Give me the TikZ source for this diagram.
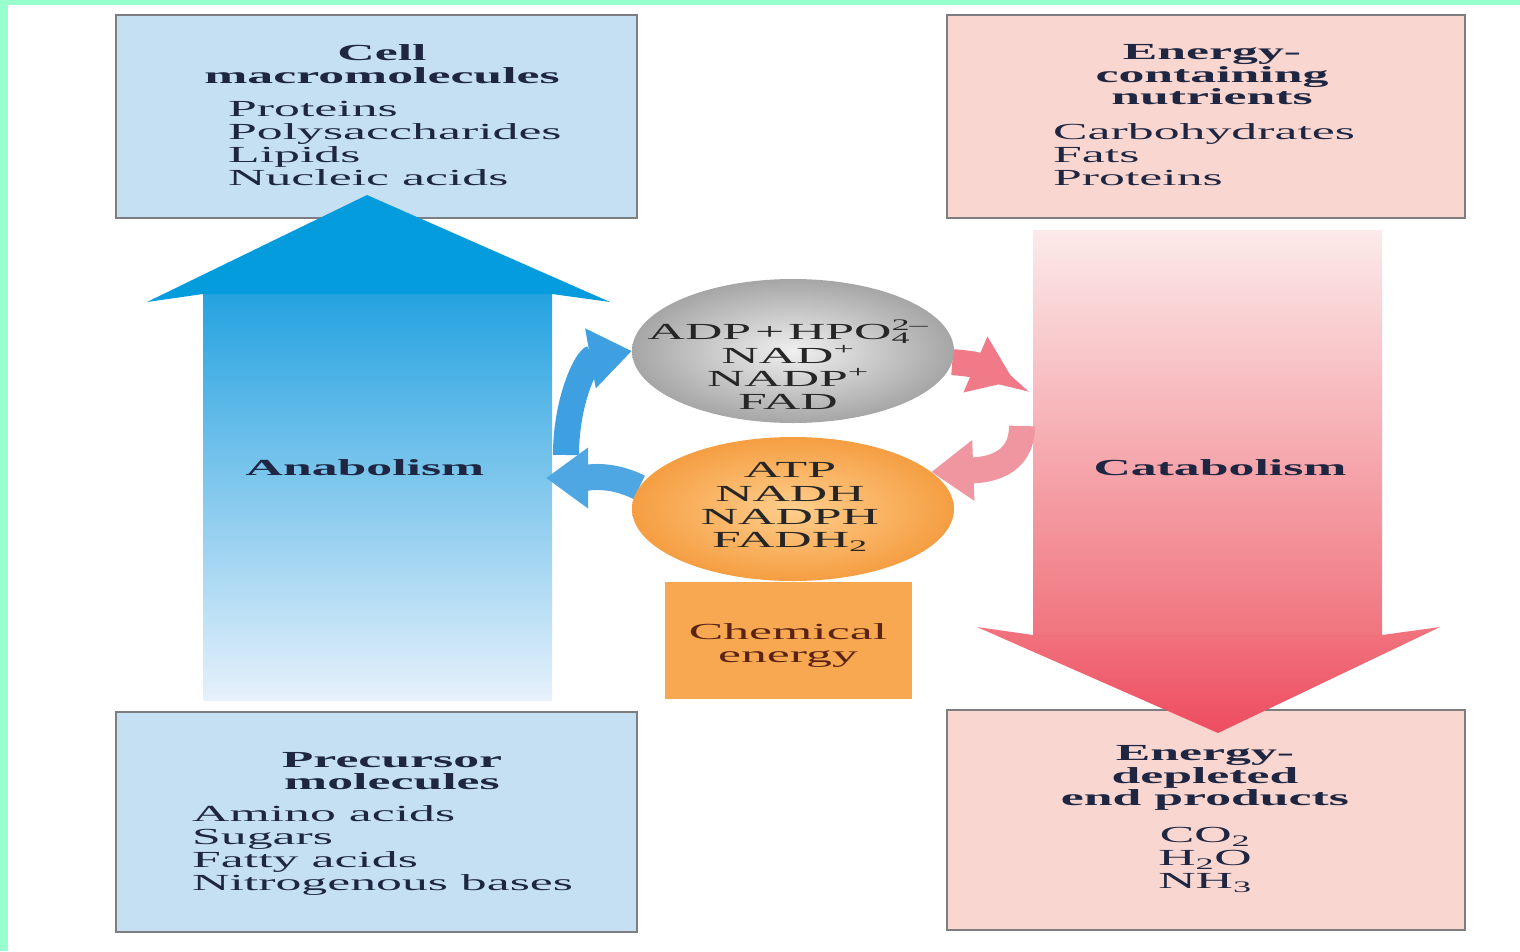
\documentclass[tikz,border=0pt]{standalone}
\usepackage{fontspec}
\setmainfont{Liberation Serif}[FakeStretch=2.25]
\usetikzlibrary{shapes.geometric,arrows.meta}

\definecolor{mint}{RGB}{152,255,206}
\definecolor{boxblue}{RGB}{198,224,243}
\definecolor{boxpink}{RGB}{249,214,208}
\definecolor{boxline}{RGB}{125,125,130}
\definecolor{inkblue}{RGB}{30,38,66}
\definecolor{anablue}{RGB}{4,156,220}
\definecolor{anatop}{RGB}{36,162,224}
\definecolor{anamid}{RGB}{118,190,236}
\definecolor{anapale}{RGB}{230,241,251}
\definecolor{catred}{RGB}{238,76,96}
\definecolor{catbase}{RGB}{240,116,126}
\definecolor{catmid}{RGB}{245,178,184}
\definecolor{catpale}{RGB}{252,234,234}
\definecolor{chemorange}{RGB}{247,168,80}
\definecolor{chemink}{RGB}{90,35,20}

\pgfdeclarelayer{back}
\pgfsetlayers{back,main}

\tikzset{
  box/.style={draw=boxline, line width=1.5pt, inner sep=0pt},
  bluebox/.style={box, fill=boxblue},
  pinkbox/.style={box, fill=boxpink},
  boxtitle/.style={font=\fontsize{23}{22.5}\selectfont\bfseries, text=inkblue, align=center, inner sep=0pt},
  boxlist/.style={font=\fontsize{23}{23}\selectfont, text=inkblue, align=left, inner sep=0pt},
  carrier/.style={ellipse, minimum width=322pt, minimum height=144pt, inner sep=0pt},
  ctext/.style={font=\fontsize{23}{23.3}\selectfont, text=black!85, align=center, inner sep=0pt},
  procname/.style={font=\fontsize{23}{23}\selectfont\bfseries, text=inkblue, inner sep=0pt},
  curve/.style={line width=26pt, -{Triangle[length=42pt,width=58pt]}},
}

\begin{document}
\begin{tikzpicture}[x=1pt,y=-1pt]
\useasboundingbox (0,0) rectangle (1520,951);

\node[carrier, inner color=gray!12, outer color=gray!70] (adp) at (793,351) {};
\node[carrier, inner color={rgb,255:red,255;green,206;blue,140}, outer color={rgb,255:red,245;green,158;blue,66}] (atp) at (793,509) {};

\coordinate (anaout) at (566,455);
\coordinate (anain) at (546,478);
\coordinate (catin) at (1014,381);
\coordinate (catout) at (1022,426);

\begin{pgfonlayer}{back}
\fill[mint] (0,0) rectangle (1520,951);
\fill[white] (8,5) rectangle (1520,951);

\node[bluebox, minimum width=521pt, minimum height=203pt] (macro) at (376.5,116.5) {};
\node[pinkbox, minimum width=518pt, minimum height=203pt] (nutr) at (1206,116.5) {};
\node[bluebox, minimum width=521pt, minimum height=220pt] (prec) at (376.5,822) {};
\node[pinkbox, minimum width=518pt, minimum height=220pt] (endp) at (1206,820) {};

\shade[top color=anatop, middle color=anamid, bottom color=anapale] (203,292) rectangle (552,700);
\fill[anablue] (147,302) -- (367,195) -- (610,302) -- (552,294) -- (203,294) -- cycle;

\shade[top color=catpale, middle color=catmid, bottom color=catbase] (1033,230) rectangle (1382,637);
\shade[top color=catbase, bottom color=catred] (977,627) -- (1033,635) -- (1382,635) -- (1440,627) -- (1218,733) -- cycle;

\draw[curve, draw={rgb,255:red,62;green,160;blue,225}] (anaout) .. controls +(0,-55) and +(-45,8) .. (adp.west);
\draw[curve, draw={rgb,255:red,78;green,166;blue,226}] (atp.172) .. controls +(-30,-15) and +(40,0) .. (anain);
\draw[curve, draw={rgb,255:red,240;green,122;blue,136}] (adp.-4) .. controls +(30,2) and +(-28,-12) .. (catin);
\draw[curve, draw={rgb,255:red,240;green,150;blue,160}] (catout) .. controls +(0,40) and +(55,-2) .. (atp.15);
\end{pgfonlayer}

\node[fill=chemorange, minimum width=247pt, minimum height=117pt, inner sep=0pt] (chem) at (788.5,640.5) {};
\node[font=\fontsize{23}{23}\selectfont, text=chemink, align=center, inner sep=0pt] (chemt) at (788,645) {Chemical\\energy};

\node[boxtitle] (macrot) at (382,64) {Cell\\macromolecules};
\node[boxlist, anchor=west] (macrol) at (228,143) {Proteins\\Polysaccharides\\Lipids\\Nucleic acids};

\node[boxtitle] (nutrt) at (1212,75) {Energy-\\containing\\nutrients};
\node[boxlist, anchor=west] (nutrl) at (1053,155) {Carbohydrates\\Fats\\Proteins};

\node[boxtitle] (prect) at (392,771) {Precursor\\molecules};
\node[boxlist, anchor=west] (precl) at (192,850) {Amino acids\\Sugars\\Fatty acids\\Nitrogenous bases};

\node[boxtitle] (endpt) at (1205,778) {Energy-\\depleted\\end products};
\node[boxlist, align=center] (endpl) at (1205,860) {CO\textsubscript{2}\\H\textsubscript{2}O\\NH\textsubscript{3}};

\node[ctext] (adpt) at (788,365) {ADP\,+\,HPO\rlap{\textsubscript{4}}\textsuperscript{2--}\\NAD\textsuperscript{+}\\NADP\textsuperscript{+}\\FAD};
\node[ctext] (atpt) at (790,507) {ATP\\NADH\\NADPH\\FADH\textsubscript{2}};

\node[procname] (ana) at (365,468) {Anabolism};
\node[procname] (cata) at (1220,468) {Catabolism};
\end{tikzpicture}
\end{document}
